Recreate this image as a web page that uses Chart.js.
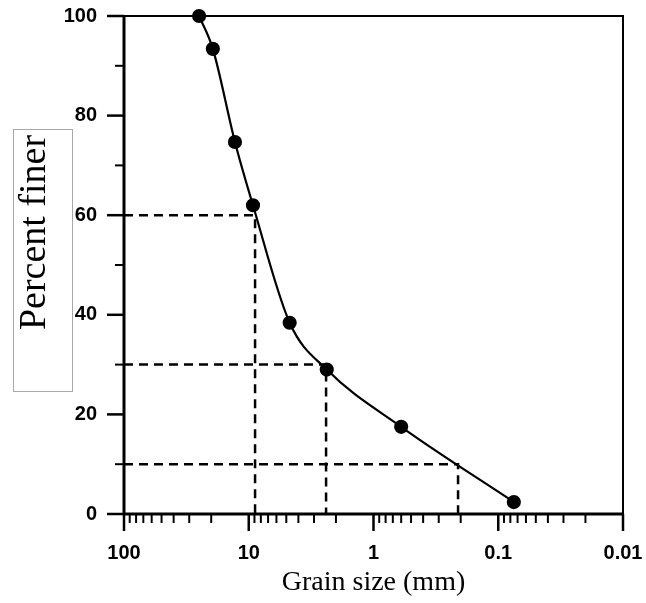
<!DOCTYPE html>
<html>
<head>
<meta charset="utf-8">
<script src="https://cdn.jsdelivr.net/npm/chart.js@4.4.1/dist/chart.umd.min.js"></script>
<style>
	html, body { margin: 0; padding: 0; background: #fff; }
	canvas { display: block; }
</style>
</head>
<body>
<canvas id="gradingChart" width="646" height="603"></canvas>
<script>
// sieve results (grain size in mm, percent finer)
var grainSize = [25, 19.4, 12.9, 9.25, 4.7, 2.37, 0.6, 0.075];
var percentFiner = [100, 93.4, 74.7, 62.0, 38.4, 29.0, 17.5, 2.4];

// D60, D30, D10 read-off lines
var refPercent = [60, 30, 10];
var refSize = [8.9, 2.4, 0.21];

// axis ticks
var xTickValues = [100, 10, 1, 0.1, 0.01];
var xTickLabels = ['100', '10', '1', '0.1', '0.01'];
var yMajorTicks = [0, 20, 40, 60, 80, 100];
var yMinorTicks = [10, 30, 50, 70, 90];

var curvePoints = grainSize.map(function (d, i) { return { x: d, y: percentFiner[i] }; });

var datasets = [{
	data: curvePoints,
	borderColor: '#000',
	backgroundColor: '#000',
	borderWidth: 2.2,
	pointRadius: 6,
	pointHoverRadius: 6,
	cubicInterpolationMode: 'monotone',
	clip: false
}];

refPercent.forEach(function (p, i) {
	datasets.push({
		data: [{ x: 100, y: p }, { x: refSize[i], y: p }, { x: refSize[i], y: 0 }],
		borderColor: '#000',
		borderWidth: 2.5,
		borderDash: [9, 6],
		pointRadius: 0,
		tension: 0
	});
});

// frame, minor/major tick marks, boxed y title
var gradingDecor = {
	id: 'gradingDecor',
	beforeDatasetsDraw: function (chart) {
		var ctx = chart.ctx, a = chart.chartArea;
		ctx.save();
		ctx.strokeStyle = '#000';
		ctx.lineWidth = 2;
		ctx.beginPath();
		ctx.moveTo(a.left, a.top); ctx.lineTo(a.right, a.top); ctx.lineTo(a.right, a.bottom);
		ctx.stroke();
		ctx.lineWidth = 3;
		ctx.beginPath();
		ctx.moveTo(a.left, a.top); ctx.lineTo(a.left, a.bottom); ctx.lineTo(a.right, a.bottom);
		ctx.stroke();
		ctx.restore();
	},
	afterDraw: function (chart) {
		var ctx = chart.ctx, a = chart.chartArea;
		var xs = chart.scales.x, ys = chart.scales.y;
		ctx.save();
		ctx.strokeStyle = '#000';

		// x axis ticks (downwards)
		ctx.lineWidth = 2.5;
		xTickValues.forEach(function (v) {
			var px = xs.getPixelForValue(v);
			ctx.beginPath(); ctx.moveTo(px, a.bottom); ctx.lineTo(px, a.bottom + 17); ctx.stroke();
		});
		ctx.lineWidth = 2;
		for (var e = -2; e < 2; e++) {
			for (var m = 2; m <= 9; m++) {
				var px = xs.getPixelForValue(m * Math.pow(10, e));
				ctx.beginPath(); ctx.moveTo(px, a.bottom); ctx.lineTo(px, a.bottom + 9); ctx.stroke();
			}
		}

		// y axis ticks (leftwards)
		ctx.lineWidth = 2.5;
		yMajorTicks.forEach(function (v) {
			var py = ys.getPixelForValue(v);
			ctx.beginPath(); ctx.moveTo(a.left, py); ctx.lineTo(a.left - 17, py); ctx.stroke();
		});
		ctx.lineWidth = 2;
		yMinorTicks.forEach(function (v) {
			var py = ys.getPixelForValue(v);
			ctx.beginPath(); ctx.moveTo(a.left, py); ctx.lineTo(a.left - 9, py); ctx.stroke();
		});

		// y title in its little box
		ctx.strokeStyle = '#a8a8a8';
		ctx.lineWidth = 1;
		ctx.strokeRect(13.5, 129.5, 59, 262);
		ctx.fillStyle = '#000';
		ctx.font = '38px "Liberation Serif", "Times New Roman", serif';
		ctx.textAlign = 'center';
		ctx.textBaseline = 'middle';
		ctx.translate(35.5, 232.5);
		ctx.rotate(-Math.PI / 2);
		ctx.fillText('Percent finer', 0, 0);
		ctx.restore();
	}
};

function noOverflow(scale) {
	scale.paddingTop = 0;
	scale.paddingBottom = 0;
	scale.paddingLeft = 0;
	scale.paddingRight = 0;
}

var tickFont = { family: '"Liberation Sans", Arial, sans-serif', size: 20, weight: 'bold' };

var ctx = document.getElementById('gradingChart').getContext('2d');
var chart = new Chart(ctx, {
	type: 'line',
	data: { datasets: datasets },
	plugins: [gradingDecor],
	options: {
		responsive: false,
		animation: false,
		devicePixelRatio: 1,
		layout: { padding: { left: 0, right: 23, top: 16, bottom: 0 } },
		plugins: {
			legend: { display: false },
			tooltip: { enabled: false }
		},
		scales: {
			x: {
				type: 'logarithmic',
				reverse: true,
				min: 0.01,
				max: 100,
				afterBuildTicks: function (scale) {
					scale.ticks = xTickValues.map(function (v) { return { value: v }; });
				},
				afterFit: function (scale) { scale.height = 89; noOverflow(scale); },
				grid: { display: false, drawTicks: true, tickLength: 17 },
				border: { display: false },
				ticks: {
					color: '#000',
					font: tickFont,
					padding: 10,
					autoSkip: false,
					maxRotation: 0,
					callback: function (value) {
						var i = xTickValues.indexOf(value);
						return i >= 0 ? xTickLabels[i] : '';
					}
				},
				title: {
					display: true,
					text: 'Grain size (mm)',
					color: '#000',
					font: { family: '"Liberation Serif", "Times New Roman", serif', size: 28 },
					padding: { top: 0, bottom: 4 }
				}
			},
			y: {
				min: 0,
				max: 100,
				afterFit: function (scale) { scale.width = 124; noOverflow(scale); },
				grid: { display: false, drawTicks: true, tickLength: 17 },
				border: { display: false },
				ticks: {
					color: '#000',
					font: tickFont,
					padding: 10,
					stepSize: 20
				}
			}
		}
	}
});
</script>
</body>
</html>
